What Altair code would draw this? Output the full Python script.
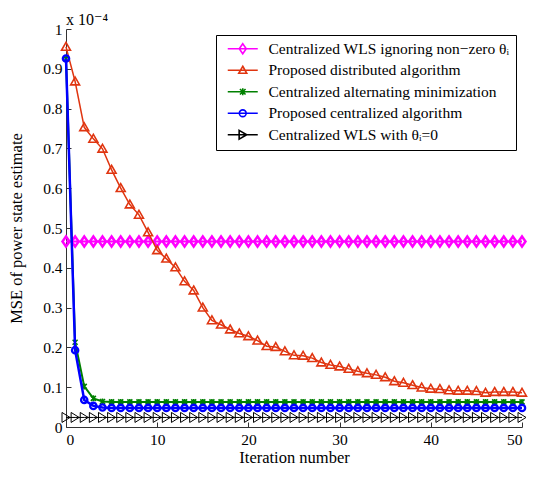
import altair as alt
import pandas as pd

FONT = "Liberation Serif, DejaVu Serif, serif"

iterations = [0, 1, 2, 3, 4, 5, 6, 7, 8, 9, 10, 11, 12, 13, 14, 15, 16, 17, 18, 19, 20,
              21, 22, 23, 24, 25, 26, 27, 28, 29, 30, 31, 32, 33, 34, 35, 36, 37, 38, 39, 40,
              41, 42, 43, 44, 45, 46, 47, 48, 49, 50]

# MSE values in units of 1e-4
wls_ignoring = [0.466, 0.466, 0.466, 0.466, 0.466, 0.466, 0.466, 0.466, 0.466, 0.466, 0.466,
                0.466, 0.466, 0.466, 0.466, 0.466, 0.466, 0.466, 0.466, 0.466, 0.466,
                0.466, 0.466, 0.466, 0.466, 0.466, 0.466, 0.466, 0.466, 0.466, 0.466,
                0.466, 0.466, 0.466, 0.466, 0.466, 0.466, 0.466, 0.466, 0.466, 0.466,
                0.466, 0.466, 0.466, 0.466, 0.466, 0.466, 0.466, 0.466, 0.466, 0.466]
distributed = [0.955, 0.868, 0.753, 0.724, 0.699, 0.646, 0.600, 0.559, 0.533, 0.489, 0.444,
               0.423, 0.401, 0.366, 0.343, 0.300, 0.268, 0.257, 0.245, 0.235, 0.228,
               0.217, 0.203, 0.201, 0.190, 0.180, 0.179, 0.173, 0.162, 0.156, 0.152,
               0.146, 0.140, 0.135, 0.131, 0.125, 0.115, 0.111, 0.105, 0.099, 0.096,
               0.095, 0.092, 0.091, 0.091, 0.090, 0.086, 0.088, 0.088, 0.088, 0.086]
alternating = [0.925, 0.213, 0.102, 0.072, 0.064, 0.063, 0.063, 0.063, 0.063, 0.063, 0.063,
               0.063, 0.063, 0.063, 0.063, 0.063, 0.063, 0.063, 0.063, 0.063, 0.063,
               0.063, 0.063, 0.063, 0.063, 0.063, 0.063, 0.063, 0.063, 0.063, 0.063,
               0.063, 0.063, 0.063, 0.063, 0.063, 0.063, 0.063, 0.063, 0.063, 0.063,
               0.063, 0.063, 0.063, 0.063, 0.063, 0.063, 0.063, 0.063, 0.063, 0.063]
centralized = [0.926, 0.193, 0.068, 0.053, 0.049, 0.048, 0.048, 0.048, 0.048, 0.048, 0.048,
               0.048, 0.048, 0.048, 0.048, 0.048, 0.048, 0.048, 0.048, 0.048, 0.048,
               0.048, 0.048, 0.048, 0.048, 0.048, 0.048, 0.048, 0.048, 0.048, 0.048,
               0.048, 0.048, 0.048, 0.048, 0.048, 0.048, 0.048, 0.048, 0.048, 0.048,
               0.048, 0.048, 0.048, 0.048, 0.048, 0.048, 0.048, 0.048, 0.048, 0.048]
wls_zero = [0.024, 0.024, 0.024, 0.024, 0.024, 0.024, 0.024, 0.024, 0.024, 0.024, 0.024,
            0.024, 0.024, 0.024, 0.024, 0.024, 0.024, 0.024, 0.024, 0.024, 0.024,
            0.024, 0.024, 0.024, 0.024, 0.024, 0.024, 0.024, 0.024, 0.024, 0.024,
            0.024, 0.024, 0.024, 0.024, 0.024, 0.024, 0.024, 0.024, 0.024, 0.024,
            0.024, 0.024, 0.024, 0.024, 0.024, 0.024, 0.024, 0.024, 0.024, 0.024]

series_names = [
    "Centralized WLS ignoring non\u2212zero \u03b8\u1d62",
    "Proposed distributed algorithm",
    "Centralized alternating minimization",
    "Proposed centralized algorithm",
    "Centralized WLS with \u03b8\u1d62=0",
]
series_values = [wls_ignoring, distributed, alternating, centralized, wls_zero]

colors = ["#FF00FF", "#E03510", "#008000", "#0000FF", "#000000"]
line_widths = [2, 1.5, 2, 2.5, 1]
marker_widths = [2.5, 1.6, 1.6, 2.3, 1]
plot_shapes = [
    "M0,-1.43L1,0L0,1.43L-1,0Z",
    "M0,-1L1,0.75L-1,0.75Z",
    "M-1,-1L1,1M-1,1L1,-1M0,-1.2L0,1.2",
    "circle",
    "M-1,-1.25L1,0L-1,1.25Z",
]
plot_sizes = [49, 80, 25, 40, 64]
legend_shapes = [
    "M-3.75,0H3.75M0,-1.25L0.875,0L0,1.25L-0.875,0Z",
    "M-3.75,0H3.75M0,-1L1,0.75L-1,0.75Z",
    "M-3.75,0H3.75M-0.7,-0.7L0.7,0.7M-0.7,0.7L0.7,-0.7M0,-0.9V0.9",
    "M-3.75,0H3.75M0.85,0A0.85,0.85 0 1,1 -0.85,0A0.85,0.85 0 1,1 0.85,0",
    "M-3.75,0H3.75M-0.9,-1.1L1,0L-0.9,1.1Z",
]

x_ticks = [0, 10, 20, 30, 40, 50]
y_ticks = [0, 0.1, 0.2, 0.3, 0.4, 0.5, 0.6, 0.7, 0.8, 0.9, 1]

rows = []
for name, vals in zip(series_names, series_values):
    for xi, yi in zip(iterations, vals):
        rows.append({"series": name, "x": xi, "y": yi})
df = pd.DataFrame(rows)

x_scale = alt.Scale(domain=[0, 50], nice=False, zero=False)
y_scale = alt.Scale(domain=[0, 1], nice=False)

AX = "#333333"
x_axis_main = alt.Axis(values=x_ticks, orient="bottom", ticks=False, labelPadding=5, format="~f",
                       domainColor=AX, domainWidth=1, grid=False, labelFont=FONT, labelFontSize=15.5,
                       labelColor="black", title="Iteration number", titleFont=FONT, titleFontSize=16.5,
                       titleFontWeight="normal", titleColor="black", titlePadding=2)
y_axis_main = alt.Axis(values=y_ticks, orient="left", ticks=False, labelPadding=4, format="~f",
                       domainColor=AX, domainWidth=1, grid=False, labelFont=FONT, labelFontSize=15.5,
                       labelColor="black", title="MSE of power state estimate", titleFont=FONT,
                       titleFontSize=16.5, titleFontWeight="normal", titleColor="black", titlePadding=18)
x_axis_ticks = alt.Axis(values=x_ticks, orient="bottom", offset=-5, tickSize=5, tickColor=AX,
                        labels=False, domain=False, grid=False, title=None)
y_axis_ticks = alt.Axis(values=y_ticks, orient="left", offset=-5, tickSize=5, tickColor=AX,
                        labels=False, domain=False, grid=False, title=None)

layers = []
for i, name in enumerate(series_names):
    base = alt.Chart(df).transform_filter(alt.datum.series == name)
    enc = dict(x=alt.X("x:Q", scale=x_scale, axis=x_axis_main),
               y=alt.Y("y:Q", scale=y_scale, axis=y_axis_main))
    line = base.mark_line(color=colors[i], strokeWidth=line_widths[i]).encode(**enc)
    pts = base.mark_point(shape=plot_shapes[i], size=plot_sizes[i], color=colors[i], filled=False,
                          strokeWidth=marker_widths[i], opacity=1).encode(**enc)
    layers += [line, pts]
main = alt.layer(*layers)

legend_layer = alt.Chart(df).transform_filter("datum.x < 0").mark_point(
    filled=False, opacity=1, strokeWidth=1.6
).encode(
    x=alt.X("x:Q", scale=x_scale, axis=x_axis_ticks),
    y=alt.Y("y:Q", scale=y_scale, axis=y_axis_ticks),
    color=alt.Color("series:N", scale=alt.Scale(domain=series_names, range=colors),
                    legend=alt.Legend(title=None)),
    shape=alt.Shape("series:N", scale=alt.Scale(domain=series_names, range=legend_shapes),
                    legend=alt.Legend(title=None)),
)

chart = alt.layer(main, legend_layer).resolve_axis(x="independent", y="independent").properties(
    width=456,
    height=398,
    padding={"left": 58, "top": 21, "right": 7, "bottom": 39},
    autosize=alt.AutoSizeParams(type="none"),
    title=alt.TitleParams(text="x 10\u207b\u2074", anchor="start", frame="group", font=FONT,
                          fontSize=16, fontWeight="normal", color="black", offset=-6),
).configure_view(stroke=None).configure_legend(
    orient="top-right", offset=6, padding=6, strokeColor="black", fillColor="white",
    labelFont=FONT, labelFontSize=15.5, labelColor="black", labelLimit=500,
    symbolSize=64, symbolOffset=13, labelOffset=18, rowPadding=4.5, symbolStrokeWidth=1.6,
)

chart.save("out.html", embed_options={"renderer": "svg", "actions": False})
